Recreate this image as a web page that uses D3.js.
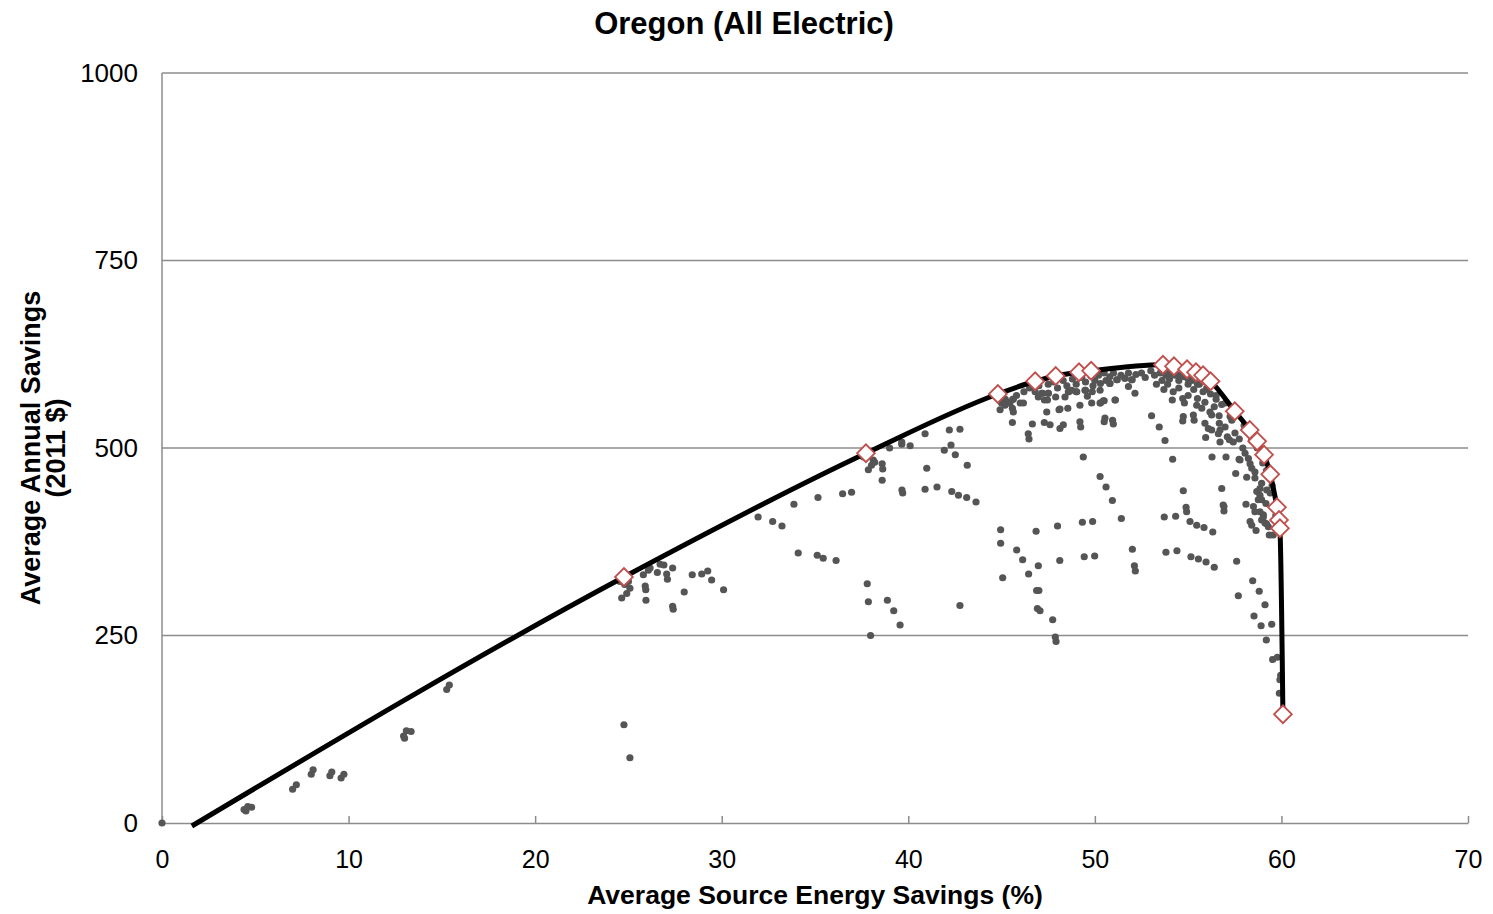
<!DOCTYPE html>
<html>
<head>
<meta charset="utf-8">
<script src="https://cdn.jsdelivr.net/npm/d3@7/dist/d3.min.js"></script>
<style>
  body { margin: 0; background: #fff; }
  text { font-family: Arial, "Liberation Sans", sans-serif; }
</style>
</head>
<body>
<svg id="chart" width="1493" height="914"></svg>
<script>
var chartTitle = "Oregon (All Electric)";
var xTitle = "Average Source Energy Savings (%)";
var yTitle = ["Average Annual Savings", "(2011 $)"];
var xTicks = [0, 10, 20, 30, 40, 50, 60, 70];
var yTicks = [0, 250, 500, 750, 1000];

// all simulated packages: [source energy savings %, annual savings $]
var packages = [
  [0,0],[4.4,18],[4.6,22],[4.8,21],[4.5,16],[7.0,45],[7.2,51],[8.0,65],[8.1,71],[9.0,63],[9.1,68],[9.6,60],[9.75,65],
  [12.95,116],[13.1,123],[13.35,122],[13.0,113],[15.26,178],[15.4,184],[24.76,131],[25.08,87],
  [24.64,300],[24.91,306],[25.08,313],[25.0,322],[24.55,322],[24.8,318],[25.8,331],[26.07,337],[26.16,340],[26.55,334],
  [26.7,345],[26.9,344],[27.37,340],[27.05,332],[27.09,325],[25.9,316],[25.93,311],[25.94,297],[27.37,289],[27.4,285],
  [27.99,308],[28.42,331],[28.93,332],[29.25,336],[29.46,324],[30.1,311],
  [31.95,408],[32.73,402],[33.23,396],[33.87,425],[34.1,360],[35.12,357],[35.44,353],[36.13,350],[35.16,434],[36.48,439],
  [36.96,441],[37.8,319],[37.86,295],[37.98,250],[38.88,297],[39.22,283],[39.56,264],[37.86,471],[38.03,477],[38.12,484],
  [37.6,488],[38.2,481],[38.6,479],[38.63,472],[38.6,457],[39.0,500],[39.65,508],[39.65,505],[40.1,503],[39.66,444],
  [39.7,440],[40.9,519],[40.99,473],[40.9,445],[41.54,448],[42.2,524],[42.77,525],[41.93,497],[42.29,504],[42.52,491],
  [43.16,477],[42.33,442],[42.69,437],[43.13,434],[43.63,428],[42.77,290],
  [44.95,391],[44.95,373],[45.06,327],[45.81,364],[46.13,351],[46.45,332],[46.85,389],[46.97,343],[46.88,310],[47.0,310],
  [46.92,286],[47.06,283],[47.74,271],[47.88,248],[47.92,242],[48.0,396],[48.12,350],[49.33,401],[49.88,402],[49.43,355],
  [49.99,356],[50.6,448],[50.94,430],[51.42,406],[52.01,365],[52.12,343],[52.17,336],[53.72,408],[54.33,409],[53.81,361],
  [54.4,363],[50.28,462],[49.38,488],[54.89,421],[54.92,415],[55.1,402],[55.46,397],[55.85,394],[56.32,388],[56.92,422],
  [56.92,416],[55.15,355],[55.55,352],[55.96,348],[56.4,341],[57.6,349],[57.69,303],[58.46,323],[58.81,309],[59.12,291],
  [58.53,276],[58.91,263],[59.48,265],[59.19,244],[59.53,218],[59.78,221],[59.96,197],[59.92,191],[59.89,173],
  [53.04,543],[53.45,528],[53.76,510],[54.17,485],[54.74,443],
  [54.15,564],[54.71,566],[54.74,542],[54.71,536],[55.28,544],[55.32,537],[55.46,557],[55.73,553],[56.17,548],[56.26,544],
  [56.66,543],[56.67,533],[55.9,533],[56.08,526],[56.26,524],[56.71,524],[56.62,519],[55.94,514],[56.71,508],[57.1,515],
  [57.21,511],[57.34,537],[57.25,542],[56.98,528],[57.42,508],[57.51,520],[57.74,512],[57.93,500],[58.05,493],[57.78,484],
  [58.23,486],[58.32,479],[58.41,473],[58.58,468],[58.14,461],[58.58,460],[58.94,453],[58.85,446],[59.21,444],[58.68,442],
  [58.85,437],[58.76,431],[58.94,431],[59.17,426],[58.5,422],[58.58,415],[58.85,415],[59.03,411],[58.94,404],[59.12,400],
  [59.3,395],[58.32,402],[58.41,397],[58.64,390],[59.35,384],[56.28,488],[57.03,488],[57.73,485],[57.55,466],[56.8,446],
  [56.88,424],[58.1,425],[59.03,408],[59.2,399],[59.56,384],
  [59.6,420],[59.7,410],[59.4,440],[59.5,450],[59.2,470],[59.0,480],[58.7,500],[58.4,510],[58.0,530],[57.5,545],
  [57.0,560],[56.5,570],[56.0,578],[55.5,585],[55.0,592],[54.5,597],[54.0,600],
  [45.2,565],[45.4,560],[45.6,565],[45.0,560],[45.8,570],[46.2,575],[46.0,560],
  [46.5,580],[46.8,575],[47.0,583],[47.2,573],[47.5,585],[47.5,573],[47.8,588],[48.0,580],[47.3,564],[47.9,568],
  [48.3,590],[48.5,583],[48.6,575],[48.8,592],[49.0,585],[49.0,575],[49.3,594],[49.5,588],[49.5,577],[49.8,596],
  [49.9,583],[50.0,590],[49.6,569],[48.4,568],
  [50.2,597],[50.3,586],[50.5,600],[50.6,590],[50.8,595],[50.8,586],[51.0,600],[51.2,591],[51.4,597],[51.6,593],
  [51.8,600],[51.8,582],[52.0,591],[52.2,598],[52.15,573],[51.1,564],[50.5,563],[50.3,560],
  [52.5,600],[52.7,594],[53.0,603],[53.2,597],[53.5,600],[53.6,590],[53.8,597],[53.3,585],[53.9,585],[53.7,578],[54.0,592],
  [54.3,597],[54.5,590],[54.5,580],[54.8,595],[55.0,585],[55.2,590],[55.3,578],[55.6,585],[55.8,575],[56.0,580],
  [56.2,572],[56.5,565],[54.2,575],[55.0,570],[55.5,566],[54.8,560],[55.9,561],[56.4,555],[56.8,558],
  [44.92,551],[45.18,557],[45.45,560],[45.58,553],[45.63,548],[46.17,560],[45.63,565],[45.58,534],[46.65,532],[46.43,519],
  [46.47,512],[46.97,568],[47.15,573],[47.46,564],[47.51,573],[47.42,548],[47.29,534],[47.6,531],[48.08,551],[48.13,552],
  [48.13,526],[48.31,531],[48.55,553],[48.58,575],[48.76,577],[49.2,557],[49.2,535],[49.24,528],[49.03,575],[49.47,577],
  [49.83,560],[50.28,560],[50.45,563],[49.86,575],[50.28,577],[50.54,540],[50.95,537],[50.5,535],[50.99,532],[51.08,564],
  [50.81,586],[51.17,591],[51.62,593],[51.97,591]
];

// least-cost curve start and the optimal (front) packages
var curveStart = [[1.6, -4]];
var optimal = [
  [24.76,328],[37.73,493],[44.8,572],[46.8,589],[47.9,596],[49.15,601],[49.8,603],[53.65,611],[54.24,609],[54.94,605],
  [55.42,601],[55.8,597],[56.2,589],[57.5,549],[58.3,524],[58.7,509],[59.07,491],[59.4,465],[59.76,421],[59.87,404],
  [59.92,393],[60.08,145]
];

var svg = d3.select("#chart");
var plotLeft = 162, plotRight = 1468, plotTop = 73, plotBottom = 823;

var x = d3.scaleLinear().domain([0, 70]).range([plotLeft, plotRight]);
var y = d3.scaleLinear().domain([0, 1000]).range([plotBottom, plotTop]);

// gridlines
svg.append("g").selectAll("line")
  .data(yTicks.filter(function(d) { return d > 0; }))
  .enter().append("line")
  .attr("x1", plotLeft).attr("x2", plotRight)
  .attr("y1", function(d) { return y(d); })
  .attr("y2", function(d) { return y(d); })
  .style("stroke", "#8c8c8c").style("stroke-width", 1.5);

// y axis
var yAxis = svg.append("g").attr("transform", "translate(" + plotLeft + ",0)")
  .call(d3.axisLeft(y).tickValues(yTicks).tickFormat(d3.format("d")).tickSize(0).tickPadding(24));
yAxis.select(".domain").remove();
yAxis.selectAll("text").style("font-size", "26px").style("fill", "#000");
svg.append("line").attr("x1", plotLeft).attr("x2", plotLeft).attr("y1", plotTop).attr("y2", plotBottom)
  .style("stroke", "#8c8c8c").style("stroke-width", 1.5);

// x axis
var xAxis = svg.append("g").attr("transform", "translate(0," + plotBottom + ")")
  .call(d3.axisBottom(x).tickValues(xTicks).tickSizeInner(-7).tickSizeOuter(0).tickPadding(27));
xAxis.select(".domain").style("stroke", "#8c8c8c").style("stroke-width", 1.5);
xAxis.selectAll(".tick line").style("stroke", "#8c8c8c").style("stroke-width", 1.5);
xAxis.selectAll("text").style("font-size", "25px").style("fill", "#000");

// scatter of all packages
svg.append("g").selectAll("circle")
  .data(packages)
  .enter().append("circle")
  .attr("cx", function(d) { return x(d[0]); })
  .attr("cy", function(d) { return y(d[1]); })
  .attr("r", 3.6)
  .style("fill", "#555555");

// least-cost curve
var line = d3.line()
  .x(function(d) { return x(d[0]); })
  .y(function(d) { return y(d[1]); })
  .curve(d3.curveMonotoneX);

svg.append("path")
  .datum(curveStart.concat(optimal))
  .attr("d", line)
  .style("fill", "none")
  .style("stroke", "#000")
  .style("stroke-width", 5)
  .style("stroke-linejoin", "round");

// optimal packages
var diamond = d3.symbol().type(d3.symbolSquare).size(158);
svg.append("g").selectAll("path")
  .data(optimal)
  .enter().append("path")
  .attr("d", diamond)
  .attr("transform", function(d) { return "translate(" + x(d[0]) + "," + y(d[1]) + ") rotate(45)"; })
  .style("fill", "#fff")
  .style("stroke", "#c0504d")
  .style("stroke-width", 1.8);

// titles
svg.append("text")
  .attr("x", 744).attr("y", 34)
  .attr("text-anchor", "middle")
  .style("font-size", "31px").style("font-weight", "bold")
  .text(chartTitle);

svg.append("text")
  .attr("x", 815).attr("y", 904)
  .attr("text-anchor", "middle")
  .style("font-size", "26.5px").style("font-weight", "bold")
  .text(xTitle);

var yt = svg.append("text")
  .attr("transform", "translate(0," + 448 + ") rotate(-90)")
  .attr("text-anchor", "middle")
  .style("font-size", "27px").style("font-weight", "bold");
yt.selectAll("tspan").data(yTitle).enter().append("tspan")
  .attr("x", 0)
  .attr("y", function(d, i) { return i === 0 ? 40 : 65; })
  .text(function(d) { return d; });
</script>
</body>
</html>
